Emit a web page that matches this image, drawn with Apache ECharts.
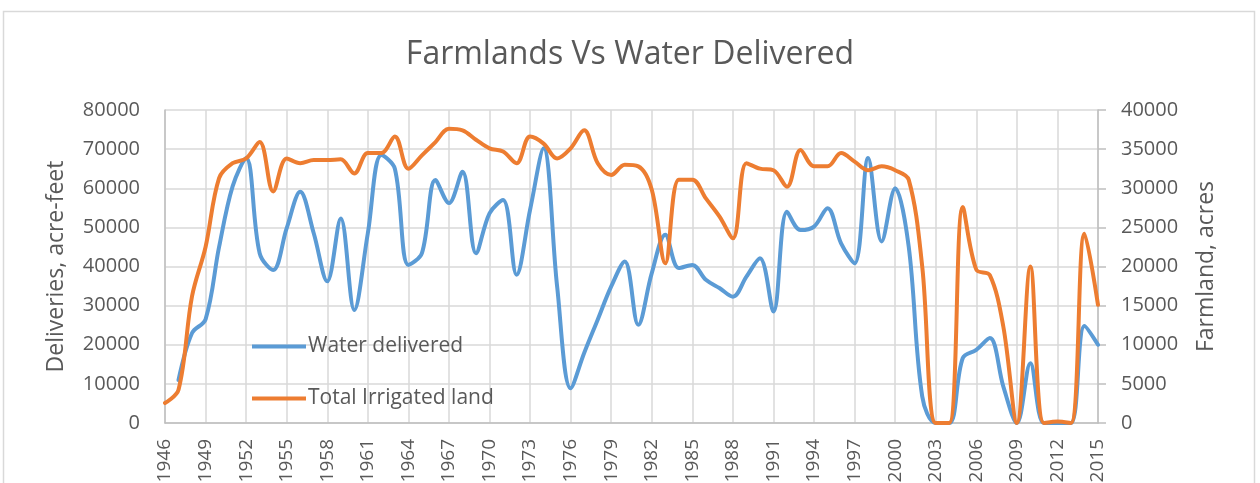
<!DOCTYPE html>
<html>
<head>
<meta charset="utf-8">
<script src="https://cdn.jsdelivr.net/npm/echarts@6/dist/echarts.min.js"></script>
<style>
html,body{margin:0;padding:0;background:#fff;}
#chart{width:1260px;height:483px;}
</style>
</head>
<body>
<div id="chart"></div>
<script>
const years = ['1946','1947','1948','1949','1950','1951','1952','1953','1954','1955','1956','1957','1958','1959','1960','1961','1962','1963','1964','1965','1966','1967','1968','1969','1970','1971','1972','1973','1974','1975','1976','1977','1978','1979','1980','1981','1982','1983','1984','1985','1986','1987','1988','1989','1990','1991','1992','1993','1994','1995','1996','1997','1998','1999','2000','2001','2002','2003','2004','2005','2006','2007','2008','2009','2010','2011','2012','2013','2014','2015'];

const waterDelivered = [null,11000,23000,26500,45000,60500,67700,43400,39100,49800,59100,48500,36200,52300,28900,48500,68500,65000,40400,43400,62100,56200,64200,43400,53600,57000,37900,54500,70200,34900,8900,17900,26400,34900,41300,25100,38300,48100,39600,40400,36600,34500,32300,37400,42100,28500,54000,49300,50200,54900,45900,40800,67700,46400,60000,45100,6800,0,0,16600,18700,21700,9300,0,15300,0,0,0,24800,20000];

const irrigatedLand = [2550,4250,16200,22500,31300,33200,33800,35900,29600,33800,33200,33600,33600,33700,31900,34500,34500,36600,32500,34200,35900,37600,37400,36200,35100,34700,33200,36600,35700,33800,35100,37400,33200,31700,33000,32800,29800,20400,31100,31100,28700,26400,23600,33200,32500,32300,30200,34900,32800,32800,34500,33400,32300,32800,32300,31100,20000,0,0,27600,19600,18900,12300,0,20000,0,200,0,24200,15100];

const leftTicks = {min:0, max:80000, interval:10000};
const rightTicks = {min:0, max:40000, interval:5000};

const FONT = '"Open Sans", "Noto Sans", sans-serif';
const TXT = '#595959';
const plain = v => String(v);

const chart = echarts.init(document.getElementById('chart'), null, {renderer:'canvas'});
chart.setOption({
  animation:false,
  backgroundColor:'#fff',
  graphic:[{type:'rect', shape:{x:3.5,y:11.5,width:1251,height:520}, style:{fill:'none', stroke:'#d9d9d9', lineWidth:1.5}, silent:true, z:-1}],
  title:{
    text:'Farmlands Vs Water Delivered',
    left:'center', top:34,
    textStyle:{fontFamily:FONT, fontSize:32, fontWeight:'normal', color:TXT}
  },
  legend:{
    orient:'vertical', left:247, top:330,
    itemWidth:54, itemHeight:4, itemGap:29,
    icon:'rect',
    textStyle:{fontFamily:FONT, fontSize:21, color:TXT, lineHeight:23, padding:[0,0,0,-3]},
    data:['Water delivered','Total Irrigated land']
  },
  grid:{left:165, right:162, top:110, bottom:60, containLabel:false, outerBoundsMode:'none'},
  xAxis:{
    type:'category', data:years, boundaryGap:false,
    axisLine:{show:true, lineStyle:{color:'#bfbfbf', width:1.5}},
    axisTick:{show:false},
    axisLabel:{interval:2, rotate:90, margin:16, fontFamily:FONT, fontSize:19, color:TXT},
    splitLine:{show:true, interval:2, lineStyle:{color:'#d9d9d9', width:1.5}}
  },
  yAxis:[{
    type:'value', min:leftTicks.min, max:leftTicks.max, interval:leftTicks.interval,
    name:'Deliveries, acre-feet', nameLocation:'middle', nameGap:97,
    nameTextStyle:{fontFamily:FONT, fontSize:23, color:TXT},
    axisLine:{show:true, lineStyle:{color:'#bfbfbf', width:1.5}},
    axisTick:{show:false},
    axisLabel:{margin:25, fontFamily:FONT, fontSize:20, color:TXT, formatter:plain},
    splitLine:{show:true, lineStyle:{color:'#d9d9d9', width:1.5}}
  },{
    type:'value', min:rightTicks.min, max:rightTicks.max, interval:rightTicks.interval,
    position:'right',
    name:'Farmland, acres', nameLocation:'middle', nameGap:97,
    nameTextStyle:{fontFamily:FONT, fontSize:23, color:TXT},
    axisLine:{show:true, lineStyle:{color:'#bfbfbf', width:1.5}},
    axisTick:{show:true, length:8, lineStyle:{color:'#bfbfbf', width:1.5}},
    axisLabel:{margin:23, fontFamily:FONT, fontSize:20, color:TXT, formatter:plain},
    splitLine:{show:false}
  }],
  series:[{
    name:'Water delivered', type:'line', yAxisIndex:0, data:waterDelivered,
    smooth:0.35, showSymbol:false, symbol:'none', connectNulls:false,
    lineStyle:{color:'#5B9BD5', width:4, cap:'round', join:'round'},
    itemStyle:{color:'#5B9BD5'}, z:3
  },{
    name:'Total Irrigated land', type:'line', yAxisIndex:1, data:irrigatedLand,
    smooth:0.35, showSymbol:false, symbol:'none',
    lineStyle:{color:'#ED7D31', width:4, cap:'round', join:'round'},
    itemStyle:{color:'#ED7D31'}, z:4
  }]
});
</script>
</body>
</html>
